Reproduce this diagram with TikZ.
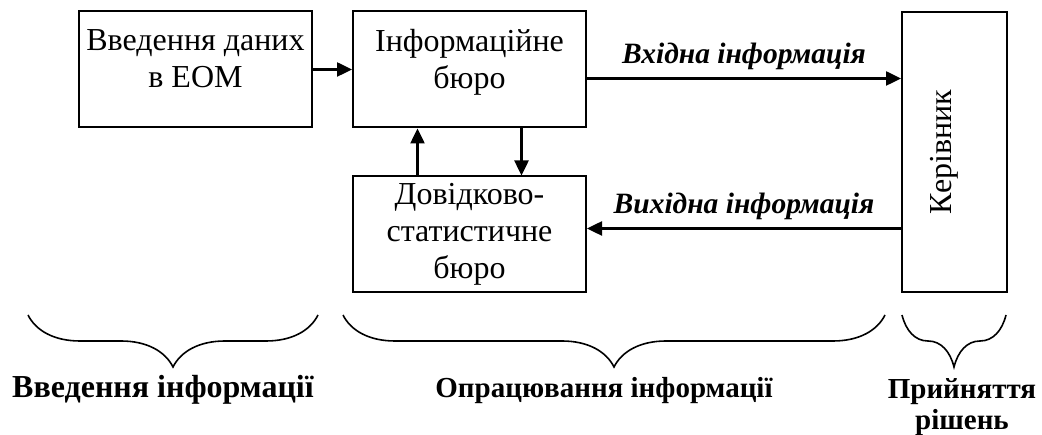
\documentclass[tikz,border=0pt]{standalone}
\usepackage{fontspec}
\setmainfont{Liberation Serif}
\usepackage{tikz}
\usetikzlibrary{arrows.meta,decorations.pathreplacing,positioning}
\tikzstyle{block}=[draw,line width=2pt,minimum width=233pt,minimum height=116pt,align=center,font=\fontsize{32}{37}\selectfont]
\tikzstyle{flow} = [draw,line width=2.5pt,-{Triangle[length=15pt,width=14pt]}]
\tikzstyle{flowlabel} = [font=\fontsize{29.5}{32}\selectfont\bfseries\itshape,above,inner sep=7pt]
\tikzstyle{stage} = [line width=1.6pt,decorate,decoration={brace,mirror,amplitude=52pt}]
\tikzstyle{stagelabel} = [align=center,font=\fontsize{29}{31}\selectfont\bfseries,anchor=base]

\begin{document}
\begin{tikzpicture}[x=1pt,y=-1pt]
\useasboundingbox (0,0) rectangle (1042,435);

% First we draw the blocks
\node[block] (input) at (195.5,69.5) {Введення даних\\в ЕОМ\\[-16pt]~};
\node[block] (info) at (469.5,69.5) {Інформаційне\\бюро\\[-16pt]~};
\node[block] (ref) at (469.5,234.5) {Довідково-\\статистичне\\бюро};
\node[block,minimum width=105pt,minimum height=280pt] (head) at (954.5,152) {};
\node[rotate=90,font=\fontsize{32}{37}\selectfont] (headtext) at ([xshift=-10pt]head.center) {Керівник};

% Connect blocks with arrows and draw labels
\path[flow] (input) -- (info);
\path[flow] ([xshift=-52pt]ref.north) -- ([xshift=-52pt]info.south);
\path[flow] ([xshift=52pt]info.south) -- ([xshift=52pt]ref.north);
\path[flow] ([yshift=-9pt]info.east) -- node[flowlabel] {Вхідна інформація} ([yshift=-9pt]info.east -| head.west);
\path[flow] ([yshift=6pt]ref.east -| head.west) -- node[flowlabel] {Вихідна інформація} ([yshift=6pt]ref.east);

% Stages below
\foreach \from / \to / \name in {28/318/enter,343/885/process,902/1006/decide}
\draw[stage] (\from,315) -- (\to,315) coordinate (\name);

\node[stagelabel,font=\fontsize{32}{31}\selectfont\bfseries] (enterlabel) at (163,398) {Введення інформації};
\node[stagelabel] (processlabel) at (604,398) {Опрацювання інформації};
\node[stagelabel,anchor=north] (decidelabel) at (962,375) {Прийняття\\рішень};

\end{tikzpicture}
\end{document}
